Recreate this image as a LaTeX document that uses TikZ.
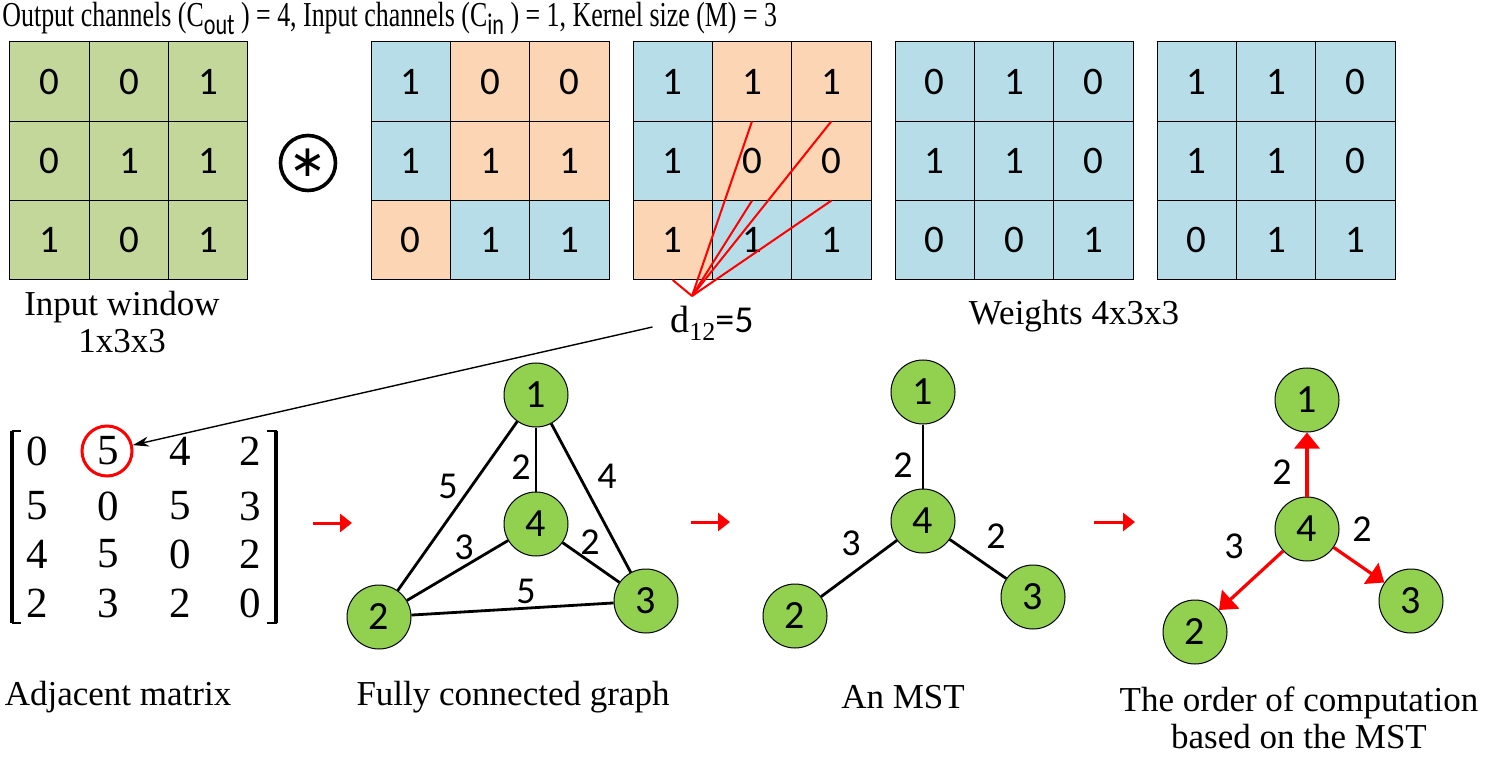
\documentclass[tikz,border=0pt]{standalone}
\usepackage{fontspec}
\setmainfont{Liberation Serif}
\newfontfamily\carl{Carlito}
\newfontfamily\djv{DejaVu Sans}
\usetikzlibrary{arrows.meta}
\definecolor{cgreen}{HTML}{C4D79B}
\definecolor{cblue}{HTML}{B7DEE8}
\definecolor{corange}{HTML}{FCD5B5}
\definecolor{ngreen}{HTML}{92D050}
\newcommand{\sublow}[1]{\raisebox{-0.5ex}{\fontsize{15}{15}\selectfont\carl #1}}
\newcommand{\mkgrid}[3]{%
  \foreach \r/\c/\v/\k in {#3} {
    \node[cell, fill=\k] (#1-\r-\c) at ({#2+(\c-0.5)*79.33}, {42+(\r-0.5)*79.33}) {\v};
  }}
\begin{document}
\begin{tikzpicture}[x=0.5pt,y=-0.5pt,
  cell/.style={draw=black, line width=0.5pt, minimum size=39.67pt, inner sep=0pt, outer sep=0pt, font=\fontsize{19.5}{19.5}\selectfont\carl},
  gnode/.style={circle, draw=black, line width=0.5pt, fill=ngreen, minimum size=32pt, inner sep=0pt, font=\fontsize{20}{20}\selectfont\carl},
  wlabel/.style={font=\fontsize{19}{19}\selectfont\carl, inner sep=0pt},
  lbl/.style={font=\fontsize{17.5}{18.5}\selectfont, inner sep=0pt, align=center},
  mat/.style={font=\fontsize{21.5}{21.5}\selectfont, inner sep=0pt},
  edge/.style={line width=1.4pt},
  stagearrow/.style={red, line width=1.5pt, -{Triangle[length=6pt,width=9pt]}},
  orderarrow/.style={red, line width=1.6pt, -{Triangle[length=8pt,width=12.5pt]}},
  redline/.style={red, line width=1pt},
]
\useasboundingbox (0,0) rectangle (1487,764);

% title
\node[anchor=west, inner sep=0pt] (title) at (2,18)
  {\scalebox{0.74}[1]{\fontsize{17.5}{18}\selectfont Output channels (C\sublow{out} ) = 4, Input channels (C\sublow{in} ) = 1, Kernel size (M) = 3}};

% grids
\mkgrid{ga}{10}{1/1/0/cgreen,1/2/0/cgreen,1/3/1/cgreen,2/1/0/cgreen,2/2/1/cgreen,2/3/1/cgreen,3/1/1/cgreen,3/2/0/cgreen,3/3/1/cgreen}
\mkgrid{gb}{371}{1/1/1/cblue,1/2/0/corange,1/3/0/corange,2/1/1/cblue,2/2/1/corange,2/3/1/corange,3/1/0/corange,3/2/1/cblue,3/3/1/cblue}
\mkgrid{gc}{633}{1/1/1/cblue,1/2/1/corange,1/3/1/corange,2/1/1/cblue,2/2/0/corange,2/3/0/corange,3/1/1/corange,3/2/1/cblue,3/3/1/cblue}
\mkgrid{gd}{895}{1/1/0/cblue,1/2/1/cblue,1/3/0/cblue,2/1/1/cblue,2/2/1/cblue,2/3/0/cblue,3/1/0/cblue,3/2/0/cblue,3/3/1/cblue}
\mkgrid{ge}{1157}{1/1/1/cblue,1/2/1/cblue,1/3/0/cblue,2/1/1/cblue,2/2/1/cblue,2/3/0/cblue,3/1/0/cblue,3/2/1/cblue,3/3/1/cblue}

% convolution operator
\node[circle, draw=black, line width=1.8pt, minimum size=27.5pt, inner sep=0pt, font=\fontsize{22}{22}\selectfont\djv] (op) at (308,163) {∗};

% red difference lines
\coordinate (conv) at (692,296);
\foreach \cc in {1-2,1-3,2-2,2-3,3-1} \draw[redline] (conv) -- (gc-\cc.south);

% labels under grids
\node[lbl] (inwin) at (122,322) {Input window\\1x3x3};
\node[lbl] (weights) at (1074,316) {Weights 4x3x3};
\node[inner sep=0pt] (dlab) at (712,323) {\fontsize{19}{19}\selectfont d\raisebox{-0.45ex}{\fontsize{13}{13}\selectfont 12}\carl\fontsize{19}{19}\selectfont =5};

% adjacency matrix
\foreach \r/\yy in {1/451,2/506,3/554,4/603} {
  \foreach \c/\xx in {1/37,2/108,3/180,4/250} {
    \coordinate (mpos-\r-\c) at (\xx,\yy);
  }
}
\foreach \r/\c/\v in {1/1/0,1/2/5,1/3/4,1/4/2,2/1/5,2/2/0,2/3/5,2/4/3,3/1/4,3/2/5,3/3/0,3/4/2,4/1/2,4/2/3,4/3/2,4/4/0}
  \node[mat] (m-\r-\c) at (mpos-\r-\c) {\v};
\draw[line width=1.6pt] (12,431) -- (12,623);
\draw[line width=1pt] (11.5,431) -- (21,431) (11.5,623) -- (21,623);
\draw[line width=1.6pt] (276,431) -- (276,623);
\draw[line width=1pt] (276.5,431) -- (267,431) (276.5,623) -- (267,623);
\node[circle, draw=red, line width=1.5pt, minimum size=25pt, inner sep=0pt] (c5) at (107,451) {};
\draw[line width=0.7pt, -{Stealth[length=8pt,width=5pt]}, shorten <=9pt] (dlab.west) -- (c5);

% stage arrows
\coordinate (s1a) at (313,523); \coordinate (s1b) at (352,523);
\coordinate (s2a) at (691,522); \coordinate (s2b) at (730,522);
\coordinate (s3a) at (1094,522); \coordinate (s3b) at (1135,522);
\draw[stagearrow] (s1a) -- (s1b);
\draw[stagearrow] (s2a) -- (s2b);
\draw[stagearrow] (s3a) -- (s3b);

% fully connected graph
\node[gnode] (f1) at (536,395) {1};
\node[gnode] (f4) at (536,524) {4};
\node[gnode] (f2) at (379,617) {2};
\node[gnode] (f3) at (646,601) {3};
\draw[edge] (f1) -- (f2);
\draw[edge] (f1) -- (f4);
\draw[edge] (f1) -- (f3);
\draw[edge] (f2) -- (f4);
\draw[edge] (f4) -- (f3);
\draw[edge] (f2) -- (f3);
\node[wlabel] (fl12) at (448,486) {5};
\node[wlabel] (fl14) at (521,467) {2};
\node[wlabel] (fl13) at (607,476) {4};
\node[wlabel] (fl24) at (464,547) {3};
\node[wlabel] (fl43) at (590,542) {2};
\node[wlabel] (fl23) at (526,591) {5};

% MST
\node[gnode] (t1) at (923,392) {1};
\node[gnode] (t4) at (923,521) {4};
\node[gnode] (t2) at (795,616) {2};
\node[gnode] (t3) at (1033,597) {3};
\draw[edge] (t1) -- (t4);
\draw[edge] (t4) -- (t2);
\draw[edge] (t4) -- (t3);
\node[wlabel] (tl14) at (903,465) {2};
\node[wlabel] (tl42) at (851,543) {3};
\node[wlabel] (tl43) at (996,536) {2};

% order of computation
\node[gnode] (o1) at (1307,400) {1};
\node[gnode] (o4) at (1307,529) {4};
\node[gnode] (o2) at (1195,632) {2};
\node[gnode] (o3) at (1411,601) {3};
\draw[orderarrow] (o4) -- (o1);
\draw[orderarrow] (o4) -- (o2);
\draw[orderarrow] (o4) -- (o3);
\node[wlabel] (ol14) at (1282,472) {2};
\node[wlabel] (ol43) at (1362,529) {2};
\node[wlabel] (ol42) at (1234,546) {3};

% bottom labels
\node[lbl] (lab1) at (118,697) {Adjacent matrix};
\node[lbl] (lab2) at (513,697) {Fully connected graph};
\node[lbl] (lab3) at (903,697) {An MST};
\node[lbl] (lab4) at (1299,718) {The order of computation\\based on the MST};
\end{tikzpicture}
\end{document}
